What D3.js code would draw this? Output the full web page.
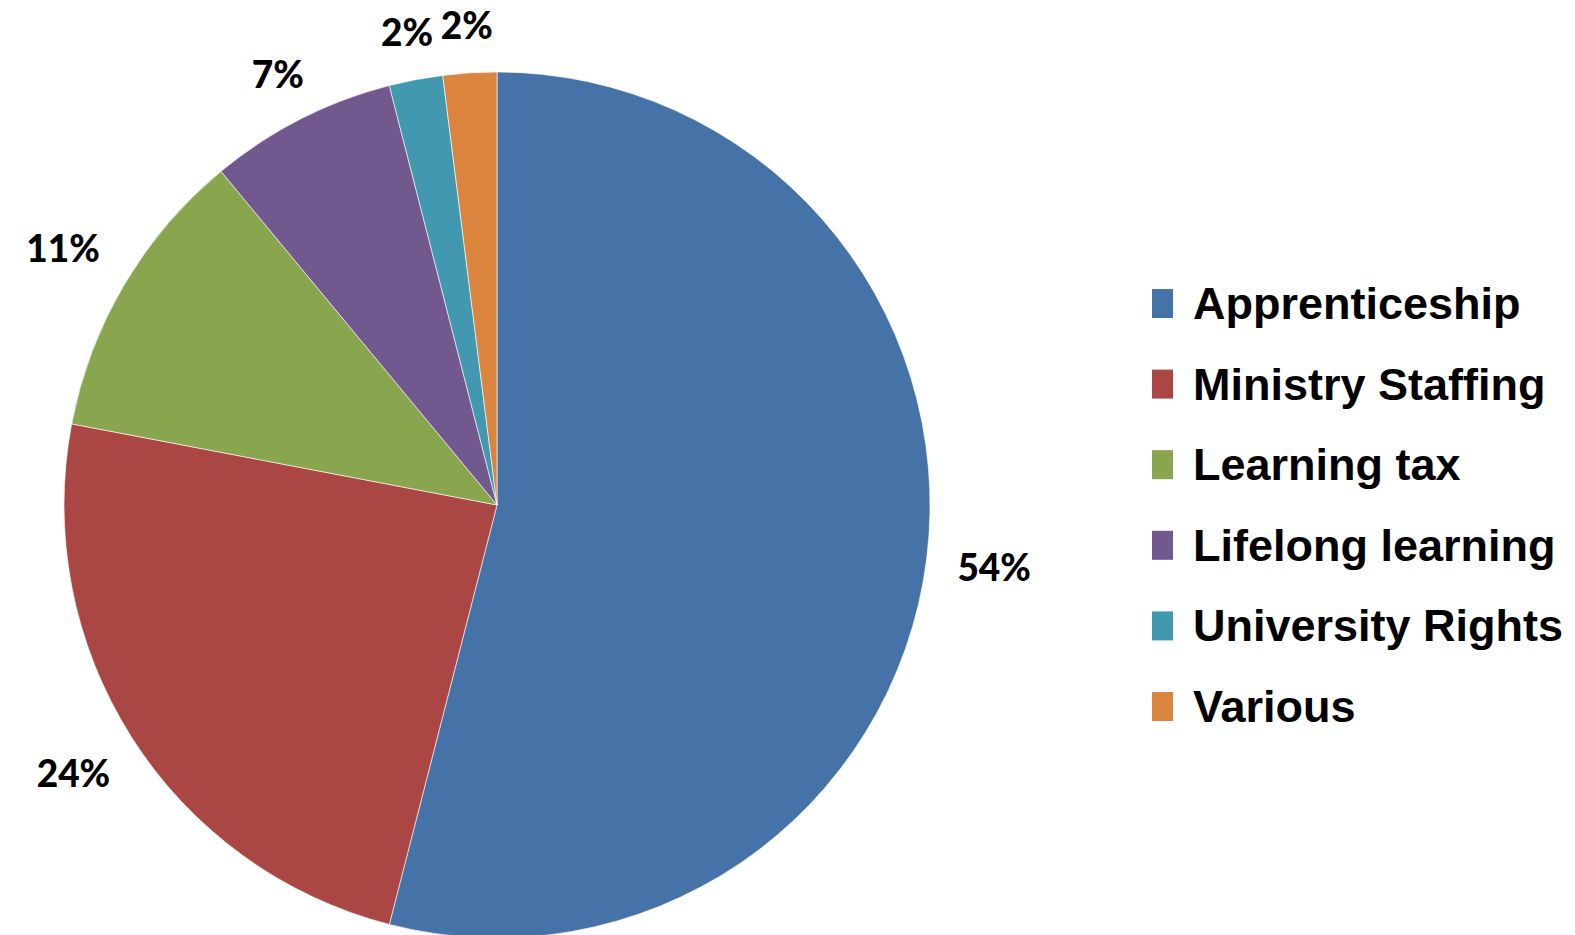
<!DOCTYPE html>
<html>
<head>
<meta charset="utf-8">
<script src="https://cdnjs.cloudflare.com/ajax/libs/d3/7.8.5/d3.min.js"></script>
<style>
  html, body { margin: 0; padding: 0; background: #fff; }
  svg { display: block; }
</style>
</head>
<body>
<div id="chart"></div>
<script>
// data
var categories = ["Apprenticeship", "Ministry Staffing", "Learning tax", "Lifelong learning", "University Rights", "Various"];
var shares = [54, 24, 11, 7, 2, 2];
var colours = ["#4572A7", "#AA4643", "#89A54E", "#71588F", "#4198AF", "#DB843D"];

var width = 1575,
    height = 935,
    cx = 497,
    cy = 505,
    radius = 433,
    labelGap = 22,
    labelSize = 37;

var data = categories.map(function (c, i) {
    return { name: c, value: shares[i] };
});

var color = d3.scaleOrdinal().domain(categories).range(colours);

var svg = d3.select("#chart").append("svg")
    .attr("width", width)
    .attr("height", height);

var pie = d3.pie()
    .sort(null)
    .value(function (d) { return d.value; });

var arc = d3.arc()
    .innerRadius(0)
    .outerRadius(radius);

var arcs = pie(data);

var g = svg.append("g")
    .attr("transform", "translate(" + cx + "," + cy + ")");

g.selectAll("path.slice")
    .data(arcs)
    .enter().append("path")
    .attr("class", "slice")
    .attr("d", arc)
    .style("fill", function (d) { return color(d.data.name); })
    .style("stroke", "#fff")
    .style("stroke-width", 1)
    .style("stroke-opacity", 0.6);

// outside-end labels: push the label box just outside the rim
var labels = g.selectAll("text.pct")
    .data(arcs)
    .enter().append("text")
    .attr("class", "pct")
    .style("font-family", "Lato, 'Open Sans', sans-serif")
    .style("font-weight", 900)
    .style("font-size", labelSize + "px")
    .style("fill", "#000")
    .style("text-anchor", "middle")
    .text(function (d) { return d.data.value + "%"; });

labels.each(function (d) {
    var bb = this.getBBox();
    var a = (d.startAngle + d.endAngle) / 2;
    var dx = Math.sin(a), dy = -Math.cos(a);
    var hw = bb.width / 2 + 9, hh = 25;
    var t = Math.min(Math.abs(dx) > 1e-6 ? hw / Math.abs(dx) : Infinity,
                     Math.abs(dy) > 1e-6 ? hh / Math.abs(dy) : Infinity);
    var dist = radius + labelGap + t;
    d3.select(this)
        .attr("x", dx * dist)
        .attr("y", dy * dist + labelSize * 0.36);
});

// legend
var legendY = d3.scalePoint()
    .domain(categories)
    .range([289, 692]);

var legend = svg.selectAll(".legend")
    .data(categories)
    .enter().append("g")
    .attr("class", "legend")
    .attr("transform", function (d) {
        return "translate(1152," + legendY(d) + ")";
    });

legend.append("rect")
    .attr("width", 21)
    .attr("height", 29)
    .style("fill", color);

legend.append("text")
    .attr("x", 41)
    .attr("y", 30)
    .style("font-family", "'Liberation Sans', Arial, sans-serif")
    .style("font-weight", "bold")
    .style("font-size", "45px")
    .style("fill", "#000")
    .text(function (d) { return d; });
</script>
</body>
</html>
